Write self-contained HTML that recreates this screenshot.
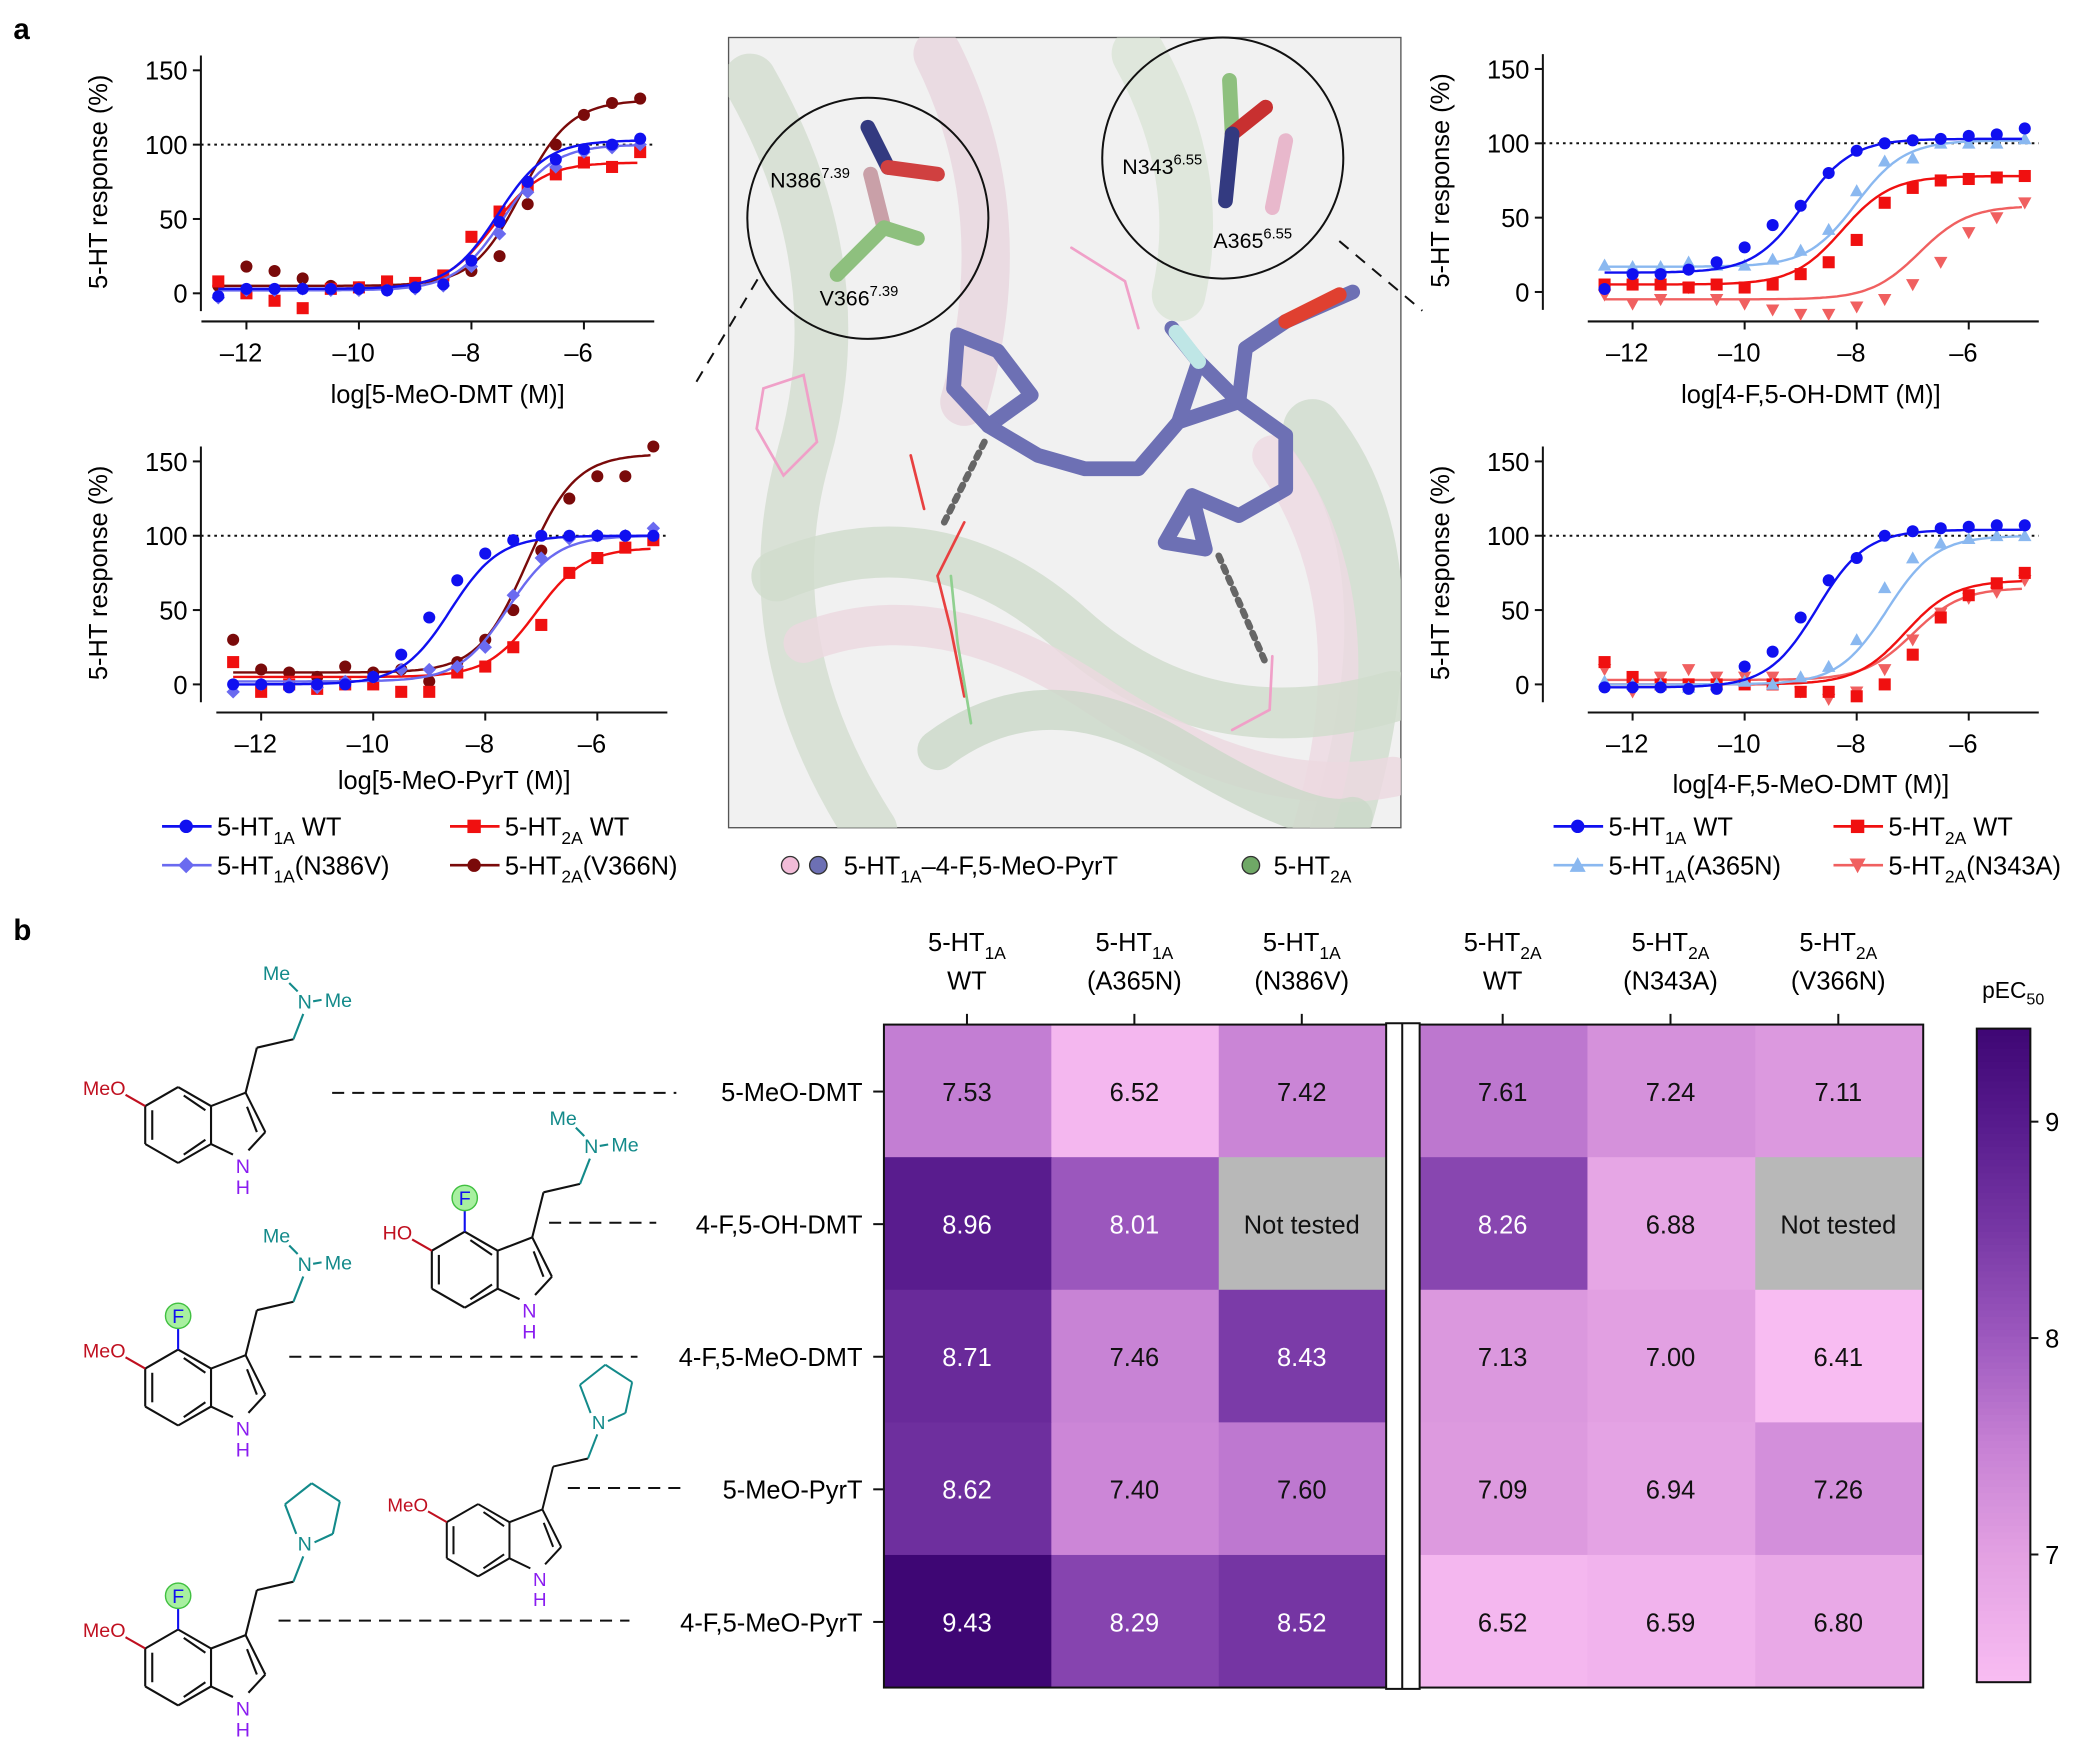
<!DOCTYPE html>
<html><head><meta charset="utf-8"><style>
html,body{margin:0;padding:0;background:#fff}
svg{display:block}
text{font-family:"Liberation Sans",Arial,sans-serif}
</style></head><body>
<svg id="fig" width="2100" height="1743" viewBox="0 0 1568 1301.4" preserveAspectRatio="none" xmlns="http://www.w3.org/2000/svg">
<text x="10" y="29" font-size="22" font-weight="bold">a</text>
<text x="10" y="702" font-size="22" font-weight="bold">b</text>
<g id="charts"></g>
<g id="center">
  <defs><clipPath id="cc"><rect x="544" y="28" width="502" height="590"/></clipPath></defs>
  <rect x="544" y="28" width="502" height="590" fill="#f1f1f1" stroke="#555" stroke-width="1"/>
  <g clip-path="url(#cc)" fill="none" stroke-linecap="round">
    <path d="M560 60 Q640 200 600 340 T650 620" stroke="#d3ddd0" stroke-width="40" opacity=".8"/>
    <path d="M700 40 Q760 160 720 300" stroke="#e8d6de" stroke-width="36" opacity=".8"/>
    <path d="M980 320 Q1060 420 1000 620" stroke="#d0dccd" stroke-width="44" opacity=".8"/>
    <path d="M950 340 Q1030 450 980 620" stroke="#eed9e2" stroke-width="30" opacity=".8"/>
    <path d="M580 430 Q700 380 800 470 T1040 520" stroke="#cfdccc" stroke-width="38" opacity=".8"/>
    <path d="M600 480 Q700 440 820 520 T1040 580" stroke="#ecd8e0" stroke-width="30" opacity=".8"/>
    <path d="M700 560 Q780 500 880 560 T1010 610" stroke="#cbd8c8" stroke-width="30" opacity=".8"/>
    <path d="M850 40 Q900 130 880 220" stroke="#d7e2d3" stroke-width="40" opacity=".7"/>
    <path d="M570 290 L600 280 L610 330 L585 355 L565 320 Z" stroke="#f0a0c8" stroke-width="2"/>
    <path d="M800 185 L840 210 L850 245" stroke="#f0a0c8" stroke-width="2"/>
    <path d="M680 340 L690 380 M720 390 L700 430 L710 470 L720 520" stroke="#e84040" stroke-width="2"/>
    <path d="M710 430 L715 480 L725 540" stroke="#90d090" stroke-width="2"/>
    <path d="M950 490 L948 530 L920 545" stroke="#f0a0c8" stroke-width="2"/>
    <path d="M735 330 L705 390" stroke="#666" stroke-width="5" stroke-dasharray="4 5"/>
    <path d="M910 415 L945 495" stroke="#666" stroke-width="5" stroke-dasharray="4 5"/>
    <g stroke="#6d70b4" stroke-width="11" stroke-linejoin="round">
      <path d="M715 250 L712 290 L738 318 L770 295 L745 262 Z"/>
      <path d="M738 318 L775 340 L810 350 L850 350 L880 315 L925 300 L960 325 L960 365 L925 385 L890 370 L870 405 L900 410 L890 370"/>
      <path d="M880 315 L895 270 L925 300 M925 300 L930 260 L960 240 L1010 218"/>
      <path d="M895 270 L875 245"/>
    </g>
    <path d="M960 240 L1000 220" stroke="#e04030" stroke-width="11"/>
    <path d="M895 270 L878 248" stroke="#bfe6e6" stroke-width="11"/>
  </g>
  <circle cx="648" cy="163" r="90" fill="none" stroke="#111" stroke-width="1.5"/>
  <circle cx="913" cy="118" r="90" fill="none" stroke="#111" stroke-width="1.5"/>
  <g stroke-width="11" stroke-linecap="round" fill="none">
    <path d="M648 95 L663 125" stroke="#333a80"/><path d="M663 125 L700 130" stroke="#d04040"/>
    <path d="M650 130 L660 170" stroke="#c9a0a8"/><path d="M660 170 L625 205 M660 170 L685 178" stroke="#8ec07e"/>
    <path d="M918 60 L920 100" stroke="#8ec07e"/><path d="M920 100 L945 80" stroke="#c83030"/><path d="M920 100 L915 150" stroke="#333a80"/>
    <path d="M960 105 L950 155" stroke="#e8b8cc"/>
  </g>
  <text x="575" y="140" font-size="16">N386<tspan font-size="11" dy="-7">7.39</tspan></text>
  <text x="612" y="228" font-size="16">V366<tspan font-size="11" dy="-7">7.39</tspan></text>
  <text x="838" y="130" font-size="16">N343<tspan font-size="11" dy="-7">6.55</tspan></text>
  <text x="906" y="185" font-size="16">A365<tspan font-size="11" dy="-7">6.55</tspan></text>
  <path d="M520 285 L566 208" stroke="#111" stroke-width="1.5" stroke-dasharray="9 7"/>
  <path d="M1000 180 L1062 232" stroke="#111" stroke-width="1.5" stroke-dasharray="9 7"/>
</g>
<g id="legends" font-size="19">
  <g>
    <line x1="121" y1="617" x2="158" y2="617" stroke="#1010f0" stroke-width="2"/><circle cx="139" cy="617" r="5" fill="#1010f0"/>
    <text x="162" y="624">5-HT<tspan font-size="13" dy="6">1A</tspan><tspan dy="-6"> WT</tspan></text>
    <line x1="121" y1="646" x2="158" y2="646" stroke="#6a6af0" stroke-width="2"/><path d="M139 640 L145 646 L139 652 L133 646Z" fill="#6a6af0"/>
    <text x="162" y="653">5-HT<tspan font-size="13" dy="6">1A</tspan><tspan dy="-6">(N386V)</tspan></text>
    <line x1="336" y1="617" x2="373" y2="617" stroke="#f01010" stroke-width="2"/><rect x="349" y="612" width="10" height="10" fill="#f01010"/>
    <text x="377" y="624">5-HT<tspan font-size="13" dy="6">2A</tspan><tspan dy="-6"> WT</tspan></text>
    <line x1="336" y1="646" x2="373" y2="646" stroke="#7a0a0a" stroke-width="2"/><circle cx="354" cy="646" r="5" fill="#7a0a0a"/>
    <text x="377" y="653">5-HT<tspan font-size="13" dy="6">2A</tspan><tspan dy="-6">(V366N)</tspan></text>
  </g>
  <g>
    <circle cx="590" cy="646" r="6.5" fill="#f2bcd8" stroke="#333"/><circle cx="611" cy="646" r="6.5" fill="#6d70b4" stroke="#333"/>
    <text x="630" y="653">5-HT<tspan font-size="13" dy="6">1A</tspan><tspan dy="-6">–4-F,5-MeO-PyrT</tspan></text>
    <circle cx="934" cy="646" r="6.5" fill="#6fa866" stroke="#333"/>
    <text x="951" y="653">5-HT<tspan font-size="13" dy="6">2A</tspan></text>
  </g>
  <g>
    <line x1="1160" y1="617" x2="1197" y2="617" stroke="#1010f0" stroke-width="2"/><circle cx="1178" cy="617" r="5" fill="#1010f0"/>
    <text x="1201" y="624">5-HT<tspan font-size="13" dy="6">1A</tspan><tspan dy="-6"> WT</tspan></text>
    <line x1="1160" y1="646" x2="1197" y2="646" stroke="#8ab8f0" stroke-width="2"/><path d="M1178 640 L1184 651 L1172 651Z" fill="#8ab8f0"/>
    <text x="1201" y="653">5-HT<tspan font-size="13" dy="6">1A</tspan><tspan dy="-6">(A365N)</tspan></text>
    <line x1="1369" y1="617" x2="1406" y2="617" stroke="#f01010" stroke-width="2"/><rect x="1382" y="612" width="10" height="10" fill="#f01010"/>
    <text x="1410" y="624">5-HT<tspan font-size="13" dy="6">2A</tspan><tspan dy="-6"> WT</tspan></text>
    <line x1="1369" y1="646" x2="1406" y2="646" stroke="#f06060" stroke-width="2"/><path d="M1381 641 L1393 641 L1387 652Z" fill="#f06060"/>
    <text x="1410" y="653">5-HT<tspan font-size="13" dy="6">2A</tspan><tspan dy="-6">(N343A)</tspan></text>
  </g>
</g>
<g id="heat"></g>
<g id="chem" font-size="14"></g>
</svg>
<script>
const NS="http://www.w3.org/2000/svg";
function mk(p,t,a){const e=document.createElementNS(NS,t);for(const k in a)e.setAttribute(k,a[k]);p.appendChild(e);return e;}
// ---------- dose-response data ----------
const doseX=[-12.5,-12,-11.5,-11,-10.5,-10,-9.5,-9,-8.5,-8,-7.5,-7,-6.5,-6,-5.5,-5];
const xTicks=[-12,-10,-8,-6];
const yTicks=[0,50,100,150];
const tl_wt=[-2,3,3,3,3,3,2,4,6,22,48,75,90,97,100,104];
const tl_n386v=[-3,2,2,3,2,2,2,3,5,18,40,68,85,95,98,100];
const tl_2awt=[8,0,-5,-10,3,4,8,7,12,38,55,72,80,88,85,95];
const tl_v366n=[5,18,15,10,5,4,7,6,10,15,25,60,100,120,128,131];
const bl_wt=[0,0,-2,0,0,5,20,45,70,88,97,100,100,100,100,100];
const bl_n386v=[-5,0,0,-2,2,5,10,10,12,25,60,85,98,100,100,105];
const bl_2awt=[15,-5,0,-3,0,0,-5,-5,8,12,25,40,75,85,92,97];
const bl_v366n=[30,10,8,5,12,8,10,2,15,30,50,90,125,140,140,160];
const tr_wt=[2,12,12,15,20,30,45,58,80,95,100,102,103,105,106,110];
const tr_a365n=[18,17,17,20,18,18,22,28,42,68,88,90,100,100,100,103];
const tr_2awt=[5,5,5,3,5,3,5,12,20,35,60,70,75,76,77,78];
const tr_n343a=[-2,-8,-5,3,-5,-8,-12,-15,-15,-10,-5,5,20,40,50,60];
const br_wt=[-2,-2,-2,-3,-3,12,22,45,70,85,100,103,105,106,107,107];
const br_a365n=[2,0,0,-2,0,2,0,5,12,30,65,85,95,98,100,100];
const br_2awt=[15,5,0,0,0,0,0,-5,-5,-8,0,20,45,60,68,75];
const br_n343a=[10,-5,5,10,5,5,5,-5,-10,-5,10,30,48,58,62,70];
// curve fit params: [bottom, top, logEC50]
const fit_tl=[[3,103,-7.53],[2,100,-7.42],[3,88,-7.61],[5,130,-7.11]];
const fit_bl=[[0,100,-8.62],[2,100,-7.60],[5,92,-7.09],[8,155,-7.26]];
const fit_tr=[[13,103,-8.96],[17,102,-8.01],[5,78,-8.26],[-5,58,-6.88]];
const fit_br=[[-2,104,-8.71],[0,100,-7.46],[0,70,-7.13],[3,65,-7.00]];

const COL={wt1:"#1010f0",n386v:"#6a6af0",a365n:"#8ab8f0",wt2:"#f01010",v366n:"#7a0a0a",n343a:"#f06060"};
const charts=[
 {name:"chart-5-meo-dmt",ox:150,x12:184,x6:436,y0:219,y100:108,xAxisY:240,title:"log[5-MeO-DMT (M)]",titleY:301,
  series:[[tl_v366n,fit_tl[3],COL.v366n,"hex"],[tl_2awt,fit_tl[2],COL.wt2,"sq"],[tl_n386v,fit_tl[1],COL.n386v,"dia"],[tl_wt,fit_tl[0],COL.wt1,"circ"]]},
 {name:"chart-5-meo-pyrt",ox:150,x12:195,x6:446,y0:511,y100:400,xAxisY:532,title:"log[5-MeO-PyrT (M)]",titleY:589,
  series:[[bl_v366n,fit_bl[3],COL.v366n,"hex"],[bl_2awt,fit_bl[2],COL.wt2,"sq"],[bl_n386v,fit_bl[1],COL.n386v,"dia"],[bl_wt,fit_bl[0],COL.wt1,"circ"]]},
 {name:"chart-4-f-5-oh-dmt",ox:1152,x12:1219,x6:1470,y0:218,y100:107,xAxisY:240,title:"log[4-F,5-OH-DMT (M)]",titleY:301,
  series:[[tr_n343a,fit_tr[3],COL.n343a,"tdown"],[tr_2awt,fit_tr[2],COL.wt2,"sq"],[tr_a365n,fit_tr[1],COL.a365n,"tup"],[tr_wt,fit_tr[0],COL.wt1,"circ"]]},
 {name:"chart-4-f-5-meo-dmt",ox:1152,x12:1219,x6:1470,y0:511,y100:400,xAxisY:532,title:"log[4-F,5-MeO-DMT (M)]",titleY:592,
  series:[[br_n343a,fit_br[3],COL.n343a,"tdown"],[br_2awt,fit_br[2],COL.wt2,"sq"],[br_a365n,fit_br[1],COL.a365n,"tup"],[br_wt,fit_br[0],COL.wt1,"circ"]]}
];
const G=document.getElementById("charts");
charts.forEach(c=>{
  const g=mk(G,"g",{});
  
  
  const xs=v=>c.x12+(v+12)*(c.x6-c.x12)/6;
  const ys=v=>c.y0-v*(c.y0-c.y100)/100;
  const xr=xs(-4.75);
  mk(g,"line",{x1:c.ox,y1:ys(160),x2:c.ox,y2:ys(-12),stroke:"#111","stroke-width":1.5});
  mk(g,"line",{x1:xs(-12.8),y1:c.xAxisY,x2:xr,y2:c.xAxisY,stroke:"#111","stroke-width":1.5});
  yTicks.forEach(t=>{mk(g,"line",{x1:c.ox-6,y1:ys(t),x2:c.ox,y2:ys(t),stroke:"#111","stroke-width":1.5});
    const tx=mk(g,"text",{x:c.ox-10,y:ys(t)+7,"font-size":19,"text-anchor":"end"});tx.textContent=t;});
  xTicks.forEach(t=>{mk(g,"line",{x1:xs(t),y1:c.xAxisY,x2:xs(t),y2:c.xAxisY+6,stroke:"#111","stroke-width":1.5});
    const tx=mk(g,"text",{x:xs(t)-4,y:c.xAxisY+30,"font-size":19,"text-anchor":"middle"});tx.textContent="–"+(-t);});
  mk(g,"line",{x1:c.ox,y1:ys(100),x2:xr,y2:ys(100),stroke:"#111","stroke-width":1.5,"stroke-dasharray":"2 3"});
  const tt=mk(g,"text",{x:(c.ox+xr)/2+15,y:c.titleY,"font-size":19,"text-anchor":"middle"});tt.textContent=c.title;
  const yl=mk(g,"text",{x:0,y:0,"font-size":19,"text-anchor":"middle",transform:`translate(${c.ox-70},${(ys(0)+ys(150))/2}) rotate(-90)`});yl.textContent="5-HT response (%)";
  c.series.forEach(s=>{
    const [pts,fit,col,shape]=s;let d="";
    for(let v=-12.5;v<=-5.001;v+=0.05){const y=fit[0]+(fit[1]-fit[0])/(1+Math.pow(10,fit[2]-v));d+=(d?"L":"M")+xs(v).toFixed(1)+" "+ys(y).toFixed(1);}
    const p=mk(g,"path",{d:d,fill:"none",stroke:col,"stroke-width":1.8});
    
    
    pts.forEach((v,i)=>{const x=xs(doseX[i]),y=ys(v);let m;
      if(shape=="circ"||shape=="hex")m=mk(g,"circle",{cx:x,cy:y,r:4.5,fill:col});
      else if(shape=="sq")m=mk(g,"rect",{x:x-4.5,y:y-4.5,width:9,height:9,fill:col});
      else if(shape=="dia")m=mk(g,"path",{d:`M${x} ${y-5}L${x+5} ${y}L${x} ${y+5}L${x-5} ${y}Z`,fill:col});
      else if(shape=="tup")m=mk(g,"path",{d:`M${x} ${y-5}L${x+5} ${y+4}L${x-5} ${y+4}Z`,fill:col});
      else m=mk(g,"path",{d:`M${x} ${y+5}L${x+5} ${y-4}L${x-5} ${y-4}Z`,fill:col});
      
      
    });
  });
});
// ---------- heatmap ----------
const heatCols=[["5-HT","1A","WT"],["5-HT","1A","(A365N)"],["5-HT","1A","(N386V)"],["5-HT","2A","WT"],["5-HT","2A","(N343A)"],["5-HT","2A","(V366N)"]];
const heatRows=["5-MeO-DMT","4-F,5-OH-DMT","4-F,5-MeO-DMT","5-MeO-PyrT","4-F,5-MeO-PyrT"];
const heatVals=[[7.53,6.52,7.42,7.61,7.24,7.11],[8.96,8.01,null,8.26,6.88,null],[8.71,7.46,8.43,7.13,7.00,6.41],[8.62,7.40,7.60,7.09,6.94,7.26],[9.43,8.29,8.52,6.52,6.59,6.80]];
const cbTicks=[7,8,9];
const stops=[[6.41,[248,188,242]],[7.0,[226,160,226]],[7.5,[198,128,212]],[8.0,[156,88,190]],[8.5,[118,54,164]],[9.0,[86,26,140]],[9.43,[62,6,116]]];
function cmap(v){for(let i=0;i<stops.length-1;i++){const [a,ca]=stops[i],[b,cb]=stops[i+1];if(v<=b||i==stops.length-2){const t=Math.max(0,Math.min(1,(v-a)/(b-a)));return `rgb(${ca.map((q,k)=>Math.round(q+(cb[k]-q)*t)).join(",")})`;}}}
const H=document.getElementById("heat");
const colX=j=>j<3?660+125*j:1060+125.3*(j-3), rowY=i=>765+99*i;
heatVals.forEach((row,i)=>row.forEach((v,j)=>{
  const r=mk(H,"rect",{x:colX(j),y:rowY(i),width:125.5,height:99.5,fill:v==null?"#b8b8b8":cmap(v)});
  
  
  const t=mk(H,"text",{x:colX(j)+62,y:rowY(i)+57,"font-size":19,"text-anchor":"middle",fill:(v!=null&&v>=8)?"#fff":"#111"});
  t.textContent=v==null?"Not tested":v.toFixed(2);
}));
mk(H,"rect",{x:660,y:765,width:776,height:495,fill:"none",stroke:"#111","stroke-width":1.5});
mk(H,"rect",{x:1035,y:764,width:25,height:497,fill:"#fff",stroke:"#111","stroke-width":1.5});
mk(H,"line",{x1:1047,y1:764,x2:1047,y2:1261,stroke:"#111","stroke-width":1.5});
heatCols.forEach((c,j)=>{const cx=colX(j)+62;
  const t=mk(H,"text",{x:cx,y:710,"font-size":19,"text-anchor":"middle"});t.innerHTML=`${c[0]}<tspan font-size="13" dy="6">${c[1]}</tspan>`;
  const t2=mk(H,"text",{x:cx,y:739,"font-size":19,"text-anchor":"middle"});t2.textContent=c[2];
  mk(H,"line",{x1:cx,y1:757,x2:cx,y2:765,stroke:"#111","stroke-width":1.5});});
heatRows.forEach((n,i)=>{const cy=rowY(i)+50;
  const t=mk(H,"text",{x:644,y:cy+7,"font-size":19,"text-anchor":"end"});t.textContent=n;
  
  
  mk(H,"line",{x1:652,y1:cy,x2:660,y2:cy,stroke:"#111","stroke-width":1.5});});
// colorbar
const cbTop=768,cbBot=1256,cbMax=9.43,cbMin=6.41;
const cbY=v=>cbBot-(v-cbMin)/(cbMax-cbMin)*(cbBot-cbTop);
for(let k=0;k<100;k++){const v0=cbMin+(cbMax-cbMin)*k/100;mk(H,"rect",{x:1476,y:cbY(v0+(cbMax-cbMin)/100)-0.5,width:40,height:(cbBot-cbTop)/100+1,fill:cmap(v0)});}
mk(H,"rect",{x:1476,y:cbTop,width:40,height:cbBot-cbTop,fill:"none",stroke:"#111","stroke-width":1.5});
cbTicks.forEach(t=>{mk(H,"line",{x1:1516,y1:cbY(t),x2:1522,y2:cbY(t),stroke:"#111","stroke-width":1.5});
  const tx=mk(H,"text",{x:1527,y:cbY(t)+7,"font-size":19});tx.textContent=t;});
const cbl=mk(H,"text",{x:1480,y:745,"font-size":17});cbl.innerHTML='pEC<tspan font-size="12" dy="5">50</tspan>';
// ---------- structures ----------
const C=document.getElementById("chem");
let P=C;
function L(x1,y1,x2,y2,col){mk(P,"line",{x1,y1,x2,y2,stroke:col||"#111","stroke-width":1.5});}
function T(x,y,s,col,anc){const t=mk(P,"text",{x,y,fill:col,"font-size":14,"text-anchor":anc||"middle"});t.textContent=s;}
function mol(cx,cy,o,name){
  P=mk(C,"g",{transform:`translate(${cx},${cy}) scale(${o.s||1.05})`});
  
  
  const r=27,h=23.4;cx=0;cy=0;
  const V=[[cx,cy-r],[cx+h,cy-r/2],[cx+h,cy+r/2],[cx,cy+r],[cx-h,cy+r/2],[cx-h,cy-r/2]];
  for(let i=0;i<6;i++)L(V[i][0],V[i][1],V[(i+1)%6][0],V[(i+1)%6][1]);
  L(cx-h+5,cy-r/2+3,cx-h+5,cy+r/2-3);L(cx+4,cy-r+6,cx+h-4,cy-r/2+3);L(cx+4,cy+r-6,cx+h-4,cy+r/2-3);
  const C3=[cx+48,cy-23],C2=[cx+62,cy+5],N1=[cx+46,cy+26];
  L(V[1][0],V[1][1],C3[0],C3[1]);L(C3[0],C3[1],C2[0],C2[1]);L(C3[0]+1,C3[1]+10,C2[0]-6,C2[1]);L(C2[0],C2[1],N1[0]+4,N1[1]-8);L(V[2][0],V[2][1],N1[0]-7,N1[1]-5);
  T(N1[0],N1[1]+8,"N","#8a1cf0");T(N1[0],N1[1]+23,"H","#8a1cf0");
  L(V[5][0],V[5][1],V[5][0]-14,V[5][1]-8,"#c01020");T(V[5][0]-14,V[5][1]-8,o.o,"#c01020","end");
  if(o.f){L(cx,cy-r,cx,cy-r-15,"#1010f0");mk(P,"circle",{cx:cx,cy:cy-r-24,r:9,fill:"#a8f0a0",stroke:"#40c040"});T(cx,cy-r-19,"F","#1010f0");}
  const a=[C3[0]+8,C3[1]-32],b=[a[0]+26,a[1]-6],n=[b[0]+8,b[1]-22];
  L(C3[0],C3[1],a[0],a[1]);L(a[0],a[1],b[0],b[1]);L(b[0],b[1],n[0]-1,n[1]+4,"#138a8a");
  T(n[0],n[1],"N","#138a8a");
  if(o.pyr){L(n[0]-6,n[1]-12,n[0]-14,n[1]-33,"#138a8a");L(n[0]-14,n[1]-33,n[0]+5,n[1]-48,"#138a8a");L(n[0]+5,n[1]-48,n[0]+25,n[1]-35,"#138a8a");L(n[0]+25,n[1]-35,n[0]+20,n[1]-12,"#138a8a");L(n[0]+20,n[1]-12,n[0]+7,n[1]-6,"#138a8a");}
  else{L(n[0]-5,n[1]-12,n[0]-11,n[1]-18,"#138a8a");T(n[0]-20,n[1]-20,"Me","#138a8a");L(n[0]+6,n[1]-5,n[0]+12,n[1]-6,"#138a8a");T(n[0]+24,n[1]-1,"Me","#138a8a");}
  P=C;
}
mol(133,840,{o:"MeO"},"structure-5-meo-dmt");
mol(347,948,{o:"HO",f:1},"structure-4-f-5-oh-dmt");
mol(133,1036,{o:"MeO",f:1},"structure-4-f-5-meo-dmt");
mol(357,1150,{o:"MeO",pyr:1,s:1.0},"structure-5-meo-pyrt");
mol(133,1245,{o:"MeO",f:1,pyr:1},"structure-4-f-5-meo-pyrt");
const dash=[[248,816,505],[410,913,490],[216,1013,476],[424,1111,510],[208,1210,470]];
dash.forEach(d=>mk(C,"line",{x1:d[0],y1:d[1],x2:d[2],y2:d[1],stroke:"#111","stroke-width":1.5,"stroke-dasharray":"9 6"}));
</script>
</body></html>
